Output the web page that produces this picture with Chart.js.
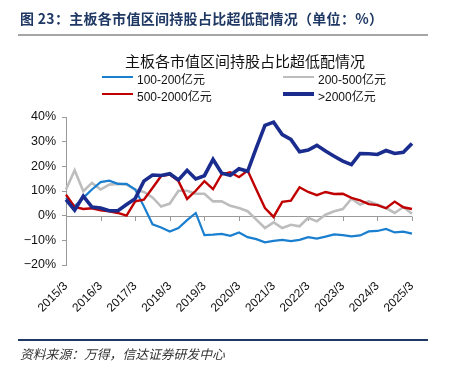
<!DOCTYPE html>
<html>
<head>
<meta charset="utf-8">
<script src="https://cdn.jsdelivr.net/npm/chart.js@4/dist/chart.umd.min.js"></script>
<style>
  html, body { margin: 0; padding: 0; background: #fff; }
  #wrap { position: relative; width: 452px; height: 377px; overflow: hidden; font-family: "Liberation Sans", "Noto Sans CJK SC", sans-serif; }
  #c { position: absolute; left: 0; top: 0; }
  .hdr { position: absolute; left: 20px; top: 8px; font-size: 14px; font-weight: bold; color: #1f3864; font-family: "Noto Sans CJK SC", sans-serif; white-space: nowrap; letter-spacing: 0.3px; }
  .hline { position: absolute; left: 18px; width: 410px; top: 34px; height: 2px; background: #a6a6a6; }
  .ctitle { position: absolute; left: 0; width: 490px; text-align: center; top: 50px; font-size: 15px; color: #111; font-family: "Noto Sans CJK SC", sans-serif; white-space: nowrap; }
  .leg { position: absolute; font-size: 12px; color: #111; white-space: nowrap; font-family: "Liberation Sans", "Noto Sans CJK SC", sans-serif; }
  .leg span.ln { position: absolute; left: 0; width: 31px; }
  .leg span.tx { position: absolute; left: 35px; top: -7px; }
  .fline { position: absolute; left: 18px; width: 410px; top: 339px; height: 2px; background: #1f3864; }
  .src { position: absolute; left: 20px; top: 344px; font-size: 12.8px; font-style: italic; color: #333; font-family: "Noto Sans CJK SC", sans-serif; white-space: nowrap; }
</style>
</head>
<body>
<div id="wrap">
  <canvas id="c" width="452" height="377"></canvas>
  <div class="hdr">图 23：主板各市值区间持股占比超低配情况（单位：%）</div>
  <div class="hline"></div>
  <div class="ctitle" id="ctitle"></div>
  <div id="legend"></div>
  <div class="fline"></div>
  <div class="src">资料来源：万得，信达证券研发中心</div>
</div>
<script>
const chartTitle = "主板各市值区间持股占比超低配情况";
const seriesNames = ["100-200亿元", "200-500亿元", "500-2000亿元", ">2000亿元"];
const seriesColors = ["#1b7fd0", "#bdbdbd", "#c00000", "#1a2d8f"];
const seriesWidths = [2.2, 2.6, 2.4, 3.6];

// quarterly categories 2015/3 .. 2025/3
const categories = [
  "2015/3","2015/6","2015/9","2015/12",
  "2016/3","2016/6","2016/9","2016/12",
  "2017/3","2017/6","2017/9","2017/12",
  "2018/3","2018/6","2018/9","2018/12",
  "2019/3","2019/6","2019/9","2019/12",
  "2020/3","2020/6","2020/9","2020/12",
  "2021/3","2021/6","2021/9","2021/12",
  "2022/3","2022/6","2022/9","2022/12",
  "2023/3","2023/6","2023/9","2023/12",
  "2024/3","2024/6","2024/9","2024/12",
  "2025/3"
];

const cap100_200 = [7.2, 3.8, 7.2, 10.6, 13.6, 14.2, 12.9, 12.9, 10.6, 3.8,
  -3.5, -4.8, -6.4, -5.0, -1.8, 1.1, -7.9, -7.7, -7.4, -8.2,
  -6.8, -8.7, -9.5, -10.8, -10.2, -9.8, -10.3, -9.8, -8.7, -9.3,
  -8.5, -7.6, -7.9, -8.4, -8.0, -6.4, -6.2, -5.4, -6.8, -6.5,
  -7.3];
const cap200_500 = [10.6, 18.4, 9.9, 13.3, 10.6, 12.6, 12.9, 12.6, 10.6, 9.6,
  7.4, 3.7, 4.9, 10.1, 10.1, 8.9, 8.9, 5.8, 5.8, 4.0,
  3.1, 1.8, -1.6, -5.0, -2.7, -5.0, -3.7, -4.3, -0.9, -2.3,
  0.4, 1.8, 2.7, 6.9, 4.5, 5.8, 4.5, 3.1, 1.1, 3.5,
  0.8];
const cap500_2000 = [8.5, 3.5, 2.7, 3.0, 2.2, 1.8, 1.1, 0.0, 5.8, 6.5,
  11.2, 16.1, 16.7, 14.0, 6.8, 10.1, 14.0, 10.8, 16.8, 17.6,
  15.6, 18.3, 10.6, 3.1, -0.5, 5.6, 6.1, 11.5, 9.6, 8.3,
  9.6, 8.8, 8.9, 7.2, 6.2, 4.7, 4.3, 3.0, 5.7, 3.4,
  2.7];
const cap2000plus = [6.5, 2.2, 7.9, 3.5, 3.1, 2.0, 2.0, 4.5, 6.9, 14.0,
  16.5, 16.3, 17.0, 14.5, 18.4, 14.9, 16.2, 22.8, 17.2, 16.4,
  19.0, 18.0, 27.5, 36.6, 37.9, 32.9, 30.9, 25.9, 26.6, 28.5,
  26.2, 24.1, 22.1, 20.7, 25.2, 25.1, 24.8, 26.4, 25.2, 25.7,
  29.3];

const yTicks = [-20, -10, 0, 10, 20, 30, 40];
const seriesData = [cap100_200, cap200_500, cap500_2000, cap2000plus];
const drawOrder = [2, 3, 1, 0];

document.getElementById('ctitle').textContent = chartTitle;

// HTML legend (2 columns)
const legendPos = [[102, 77], [283, 77], [102, 94], [283, 94]];
const legEl = document.getElementById('legend');
seriesNames.forEach((n, i) => {
  const d = document.createElement('div');
  d.className = 'leg';
  d.style.left = legendPos[i][0] + 'px';
  d.style.top = legendPos[i][1] + 'px';
  const ln = document.createElement('span');
  ln.className = 'ln';
  const w = i === 3 ? 3.5 : 2.2;
  ln.style.height = w + 'px';
  ln.style.top = (-w / 2) + 'px';
  ln.style.background = seriesColors[i];
  const tx = document.createElement('span');
  tx.className = 'tx';
  tx.textContent = n;
  d.appendChild(ln); d.appendChild(tx);
  legEl.appendChild(d);
});

const axisColor = '#9a9a9a';
const zeroLinePlugin = {
  id: 'zeroLine',
  beforeDatasetsDraw(chart) {
    const { ctx, chartArea, scales } = chart;
    const y0 = scales.y.getPixelForValue(0);
    ctx.save();
    ctx.strokeStyle = axisColor;
    ctx.lineWidth = 1;
    ctx.beginPath();
    ctx.moveTo(chartArea.left, Math.round(y0) + 0.5);
    ctx.lineTo(chartArea.right, Math.round(y0) + 0.5);
    categories.forEach((c, i) => {
      if (i % 4 === 0) {
        const x = Math.round(scales.x.getPixelForValue(i)) + 0.5;
        ctx.moveTo(x, Math.round(y0) + 0.5);
        ctx.lineTo(x, Math.round(y0) + 5);
      }
    });
    ctx.stroke();
    ctx.restore();
  }
};

function fmtPct(v) {
  const n = Number(v);
  return (n < 0 ? '\u2212' + Math.abs(n) : String(n)) + '%';
}

new Chart(document.getElementById('c'), {
  type: 'line',
  data: {
    labels: categories,
    datasets: seriesNames.map((n, i) => ({
      label: n,
      data: seriesData[i],
      borderColor: seriesColors[i],
      backgroundColor: seriesColors[i],
      borderWidth: seriesWidths[i],
      pointRadius: 0,
      tension: 0,
      fill: false,
      order: drawOrder[i]
    }))
  },
  options: {
    responsive: false,
    animation: false,
    devicePixelRatio: 1,
    layout: { padding: { left: 0, right: 40, top: 117, bottom: 60 } },
    plugins: {
      legend: { display: false },
      title: { display: false },
      tooltip: { enabled: false }
    },
    scales: {
      x: {
        type: 'category',
        offset: false,
        grid: { display: false },
        border: { display: false },
        ticks: {
          autoSkip: false,
          maxRotation: 45,
          minRotation: 45,
          padding: 6,
          color: '#111',
          font: { family: "Liberation Sans", size: 12 },
          callback: function(v, i) { return i % 4 === 0 ? categories[i] : ''; }
        },
        afterFit: (s) => { s.height = 52; }
      },
      y: {
        min: -20,
        max: 40,
        afterBuildTicks: (s) => { s.ticks = yTicks.map(v => ({ value: v })); },
        grid: { drawOnChartArea: false, drawTicks: true, tickLength: 4, color: axisColor, tickColor: axisColor },
        border: { display: true, color: axisColor, width: 1 },
        ticks: {
          padding: 6,
          color: '#111',
          font: { family: "'Liberation Sans', 'DejaVu Sans'", size: 12.5 },
          callback: (v) => fmtPct(v)
        },
        afterFit: (s) => { s.width = 66; }
      }
    }
  },
  plugins: [zeroLinePlugin]
});
</script>
</body>
</html>
